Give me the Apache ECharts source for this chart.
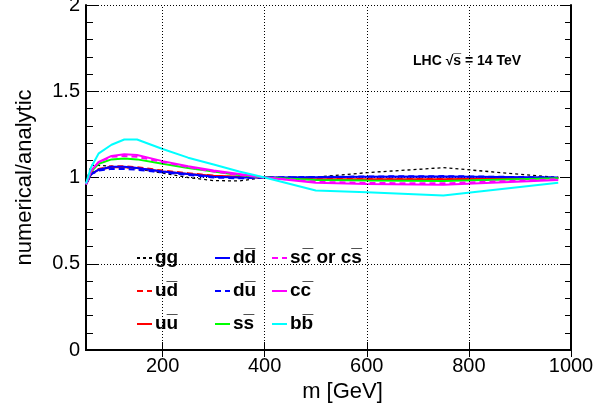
<!DOCTYPE html>
<html><head><meta charset="utf-8">
<script src="https://cdn.jsdelivr.net/npm/echarts@6/dist/echarts.min.js"></script>
<style>html,body{margin:0;padding:0;background:#fff}#c{width:607px;height:413px}</style>
</head><body><div id="c"></div>
<script>
var mass = [50, 60, 75, 100, 125, 150, 200, 250, 300, 350, 400, 500, 600, 750, 975];
var gg  = [0.97, 1.07, 1.07, 1.065, 1.06, 1.05, 1.025, 1.0, 0.982, 0.98, 1.0, 1.003, 1.028, 1.057, 1.0];
var ud  = [0.96, 1.025, 1.05, 1.065, 1.065, 1.06, 1.04, 1.025, 1.01, 1.0, 1.0, 0.99, 0.992, 0.993, 0.998];
var uu  = [0.96, 1.02, 1.045, 1.06, 1.06, 1.055, 1.035, 1.02, 1.01, 1.005, 1.0, 0.99, 0.99, 0.99, 0.997];
var dd  = [0.96, 1.02, 1.045, 1.062, 1.062, 1.055, 1.035, 1.02, 1.005, 1.0, 1.0, 1.002, 1.004, 1.006, 1.0];
var du  = [0.96, 1.02, 1.04, 1.05, 1.05, 1.045, 1.03, 1.015, 1.0, 0.995, 1.0, 1.003, 1.006, 1.008, 1.0];
var ss  = [0.96, 1.035, 1.08, 1.105, 1.11, 1.105, 1.08, 1.055, 1.035, 1.015, 1.0, 0.985, 0.982, 0.98, 0.995];
var sc  = [0.96, 1.04, 1.09, 1.12, 1.125, 1.12, 1.09, 1.06, 1.035, 1.015, 1.0, 0.975, 0.968, 0.966, 0.99];
var cc  = [0.96, 1.04, 1.09, 1.125, 1.135, 1.13, 1.095, 1.065, 1.04, 1.02, 1.0, 0.97, 0.962, 0.958, 0.985];
var bb  = [0.965, 1.06, 1.14, 1.19, 1.22, 1.22, 1.165, 1.115, 1.075, 1.035, 1.0, 0.925, 0.915, 0.895, 0.97];
var xTicks = [200, 400, 600, 800, 1000];
var xGrid = [200, 400, 600, 800];
var OL = '\u0305';
var names = {
  gg: 'gg', ud: 'ud' + OL, uu: 'uu' + OL, dd: 'dd' + OL, du: 'du' + OL,
  ss: 'ss' + OL, sc: 'sc' + OL + ' or cs' + OL, cc: 'cc' + OL, bb: 'bb' + OL
};
function pairs(v){ return mass.map(function(m,i){ return [m, v[i]]; }); }
function mk(key, vals, color, type, width){
  return {
    name: names[key], type: 'line', data: pairs(vals), symbol: 'none', smooth: false,
    lineStyle: { color: color, width: width, type: type }, itemStyle: { color: color },
    xAxisIndex: 0, yAxisIndex: 0, animation: false
  };
}
var series = [
  mk('gg', gg, '#000000', [3, 3], 1.3),
  mk('ud', ud, '#ff0000', [6, 4], 2),
  mk('uu', uu, '#ff0000', 'solid', 2),
  mk('dd', dd, '#0000ff', 'solid', 2),
  mk('du', du, '#0000ff', [6, 4], 2),
  mk('ss', ss, '#00ff00', 'solid', 2),
  mk('sc', sc, '#ff00ff', [6, 4], 2),
  mk('cc', cc, '#ff00ff', 'solid', 2),
  mk('bb', bb, '#00ffff', 'solid', 2)
];
series[0].markLine = {
  silent: true, symbol: 'none', label: { show: false }, animation: false,
  lineStyle: { color: '#000', type: [1, 2], width: 1 },
  data: xGrid.map(function(v){ return { xAxis: v }; })
};
var FONT = 'Liberation Sans, Helvetica, Arial, sans-serif';
function leg(left, keys){
  return {
    orient: 'vertical', left: left, top: 240, itemWidth: 15, itemHeight: 12, itemGap: 7,
    selectedMode: false,
    itemStyle: { opacity: 0, borderWidth: 0 },
    data: keys.map(function(k){ return names[k]; }),
    textStyle: { fontFamily: FONT, fontWeight: 'bold', fontSize: 19, color: '#000', padding: [6, 0, 0, -2], lineHeight: 20 }
  };
}
var chart = echarts.init(document.getElementById('c'), null, { renderer: 'canvas' });
chart.setOption({
  animation: false,
  backgroundColor: '#fff',
  grid: { left: 86, right: 36, top: 5, bottom: 63, outerBoundsMode: 'none', containLabel: false },
  legend: [leg(131, ['gg', 'ud', 'uu']), leg(209, ['dd', 'du', 'ss']), leg(266, ['sc', 'cc', 'bb'])],
  xAxis: [{
    type: 'value', min: 50, max: 1000, position: 'bottom',
    axisLine: { lineStyle: { color: '#000', width: 2 } },
    axisTick: { inside: true, length: 8, customValues: xTicks, lineStyle: { color: '#000', width: 1 } },
    axisLabel: { customValues: xTicks, color: '#000', fontSize: 20, fontFamily: FONT, margin: 6,
                 formatter: function(v){ return String(v); } },
    splitLine: { show: false },
    name: 'm [GeV]', nameLocation: 'middle', nameGap: 25,
    nameTextStyle: { color: '#000', fontSize: 22, fontFamily: FONT, padding: [0, 0, 0, 28] }
  }, {
    type: 'value', min: 50, max: 1000, position: 'top',
    axisLine: { lineStyle: { color: '#000', width: 2 } },
    axisTick: { inside: true, length: 7, customValues: xTicks, lineStyle: { color: '#000', width: 1 } },
    axisLabel: { show: false }, splitLine: { show: false }
  }],
  yAxis: [{
    type: 'value', min: 0, max: 2, interval: 0.5, position: 'left',
    axisLine: { show: true, lineStyle: { color: '#000', width: 2 } },
    axisTick: { show: true, inside: true, length: 13, lineStyle: { color: '#000', width: 1 } },
    minorTick: { show: true, splitNumber: 5, length: 7, lineStyle: { color: '#000', width: 1 } },
    axisLabel: { color: '#000', fontSize: 20, fontFamily: FONT, margin: 6 },
    splitLine: { show: true, lineStyle: { color: '#000', type: [1, 2], width: 1 } },
    name: 'numerical/analytic', nameLocation: 'middle', nameGap: 50,
    nameTextStyle: { color: '#000', fontSize: 22, fontFamily: FONT }
  }, {
    type: 'value', min: 0, max: 2, interval: 0.5, position: 'right',
    axisLine: { show: true, lineStyle: { color: '#000', width: 2 } },
    axisTick: { show: true, inside: true, length: 11, lineStyle: { color: '#000', width: 1 } },
    minorTick: { show: true, splitNumber: 5, length: 6, lineStyle: { color: '#000', width: 1 } },
    axisLabel: { show: false }, splitLine: { show: false }
  }],
  graphic: [{
    type: 'text', left: 413, top: 54, silent: true,
    style: { text: 'LHC \u221As' + OL + ' = 14 TeV', fontFamily: FONT, fontWeight: 'bold', fontSize: 14, fill: '#000' }
  }],
  series: series
});
</script></body></html>
